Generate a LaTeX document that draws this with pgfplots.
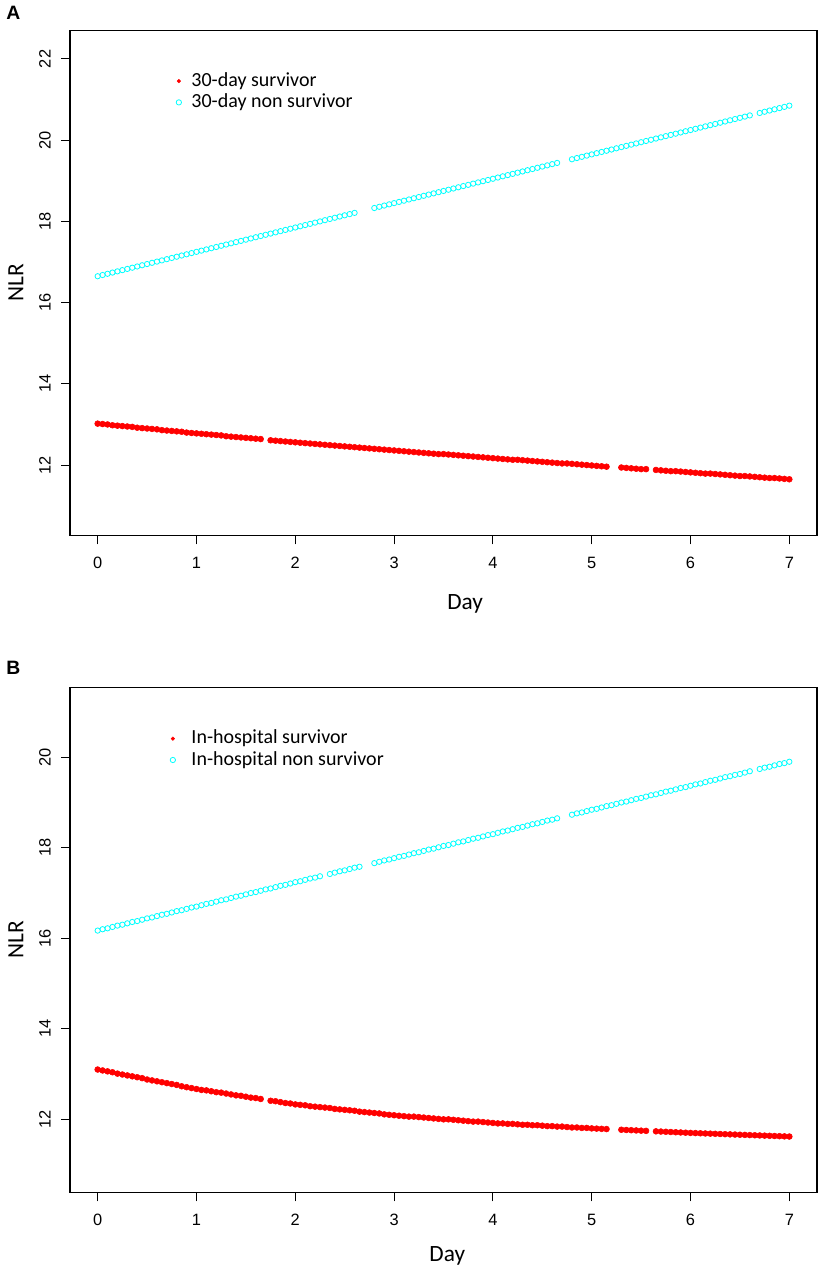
\documentclass[border=0pt]{standalone}
\usepackage{fontspec}
\setmainfont{Carlito}
\newfontfamily\arialf{Liberation Sans}
\usepackage{pgfplots}
\pgfplotsset{compat=1.18}
\usepackage{pgfplotstable}
\definecolor{rcyan}{RGB}{0,255,255}
\definecolor{rred}{RGB}{255,0,0}

\pgfplotstableread{
x ac ar bc br
0.00 16.65 13.02 16.17 13.10
0.05 16.68 13.01 16.20 13.08
0.10 16.71 13.00 16.22 13.06
0.15 16.74 12.98 16.25 13.04
0.20 16.77 12.97 16.28 13.01
0.25 16.80 12.96 16.30 12.99
0.30 16.83 12.95 16.33 12.97
0.35 16.86 12.94 16.36 12.95
0.40 16.89 12.92 16.38 12.93
0.45 16.92 12.91 16.41 12.91
0.50 16.95 12.90 16.44 12.88
0.55 16.98 12.89 16.46 12.86
0.60 17.01 12.88 16.49 12.84
0.65 17.04 12.86 16.52 12.82
0.70 17.07 12.85 16.54 12.80
0.75 17.10 12.84 16.57 12.78
0.80 17.13 12.83 16.60 12.76
0.85 17.16 12.82 16.62 12.73
0.90 17.19 12.80 16.65 12.71
0.95 17.22 12.79 16.68 12.69
1.00 17.25 12.78 16.70 12.67
1.05 17.28 12.77 16.73 12.65
1.10 17.31 12.76 16.76 12.64
1.15 17.34 12.75 16.78 12.62
1.20 17.37 12.74 16.81 12.60
1.25 17.40 12.73 16.84 12.59
1.30 17.43 12.71 16.86 12.57
1.35 17.46 12.70 16.89 12.55
1.40 17.49 12.69 16.92 12.53
1.45 17.52 12.68 16.94 12.52
1.50 17.55 12.67 16.97 12.50
1.55 17.58 12.66 17.00 12.48
1.60 17.61 12.65 17.02 12.47
1.65 17.64 12.64 17.05 12.45
1.70 17.67 nan 17.08 nan
1.75 17.70 12.61 17.10 12.41
1.80 17.73 12.60 17.13 12.40
1.85 17.76 12.59 17.16 12.38
1.90 17.79 12.58 17.18 12.36
1.95 17.82 12.57 17.21 12.35
2.00 17.85 12.56 17.24 12.33
2.05 17.88 12.55 17.26 12.32
2.10 17.91 12.54 17.29 12.31
2.15 17.94 12.53 17.32 12.29
2.20 17.97 12.52 17.34 12.28
2.25 18.00 12.51 17.37 12.27
2.30 18.03 12.50 nan 12.26
2.35 18.06 12.49 17.42 12.25
2.40 18.09 12.48 17.45 12.23
2.45 18.12 12.47 17.48 12.22
2.50 18.15 12.46 17.50 12.21
2.55 18.18 12.45 17.53 12.20
2.60 18.21 12.44 17.56 12.19
2.65 nan 12.43 17.58 12.17
2.70 nan 12.42 nan 12.16
2.75 nan 12.41 nan 12.15
2.80 18.33 12.40 17.66 12.14
2.85 18.36 12.39 17.69 12.13
2.90 18.39 12.38 17.72 12.11
2.95 18.42 12.37 17.74 12.10
3.00 18.45 12.36 17.77 12.09
3.05 18.48 12.35 17.80 12.08
3.10 18.51 12.34 17.82 12.07
3.15 18.54 12.33 17.85 12.06
3.20 18.57 12.32 17.88 12.06
3.25 18.60 12.31 17.90 12.05
3.30 18.63 12.30 17.93 12.04
3.35 18.66 12.29 17.96 12.03
3.40 18.69 12.28 17.98 12.02
3.45 18.72 12.27 18.01 12.01
3.50 18.75 12.27 18.04 12.00
3.55 18.78 12.26 18.06 12.00
3.60 18.81 12.25 18.09 11.99
3.65 18.84 12.24 18.12 11.98
3.70 18.87 12.23 18.14 11.97
3.75 18.90 12.22 18.17 11.96
3.80 18.93 12.21 18.20 11.95
3.85 18.96 12.20 18.22 11.95
3.90 18.99 12.19 18.25 11.94
3.95 19.02 12.18 18.28 11.93
4.00 19.05 12.17 18.30 11.92
4.05 19.08 12.16 18.33 11.91
4.10 19.11 12.15 18.36 11.91
4.15 19.14 12.14 18.38 11.90
4.20 19.17 12.13 18.41 11.90
4.25 19.20 12.13 18.44 11.89
4.30 19.23 12.12 18.46 11.88
4.35 19.26 12.11 18.49 11.88
4.40 19.29 12.10 18.52 11.87
4.45 19.32 12.09 18.54 11.87
4.50 19.35 12.08 18.57 11.86
4.55 19.38 12.07 18.60 11.85
4.60 19.41 12.06 18.62 11.85
4.65 19.44 12.05 18.65 11.84
4.70 nan 12.04 nan 11.84
4.75 nan 12.04 nan 11.83
4.80 19.53 12.03 18.73 11.82
4.85 19.56 12.02 18.76 11.82
4.90 19.59 12.01 18.78 11.81
4.95 19.62 12.00 18.81 11.81
5.00 19.65 11.99 18.84 11.80
5.05 19.68 11.98 18.86 11.795
5.10 19.71 11.97 18.89 11.790
5.15 19.74 11.96 18.92 11.785
5.20 19.77 nan 18.94 nan
5.25 19.80 nan 18.97 nan
5.30 19.83 11.94 19.00 11.770
5.35 19.86 11.93 19.02 11.765
5.40 19.89 11.92 19.05 11.760
5.45 19.92 11.91 19.08 11.755
5.50 19.95 11.90 19.10 11.750
5.55 19.98 11.90 19.13 11.745
5.60 20.01 nan 19.16 nan
5.65 20.04 11.88 19.18 11.735
5.70 20.07 11.87 19.21 11.730
5.75 20.10 11.86 19.24 11.725
5.80 20.13 11.85 19.26 11.720
5.85 20.16 11.85 19.29 11.715
5.90 20.19 11.84 19.32 11.710
5.95 20.22 11.83 19.34 11.705
6.00 20.25 11.82 19.37 11.700
6.05 20.28 11.81 19.40 11.696
6.10 20.31 11.80 19.42 11.692
6.15 20.34 11.79 19.45 11.688
6.20 20.37 11.79 19.48 11.684
6.25 20.40 11.78 19.50 11.680
6.30 20.43 11.77 19.53 11.676
6.35 20.46 11.76 19.56 11.672
6.40 20.49 11.75 19.58 11.668
6.45 20.52 11.74 19.61 11.664
6.50 20.55 11.73 19.63 11.660
6.55 20.58 11.73 19.66 11.656
6.60 20.61 11.72 19.69 11.652
6.65 nan 11.71 nan 11.648
6.70 20.67 11.70 19.74 11.644
6.75 20.70 11.69 19.77 11.640
6.80 20.73 11.68 19.79 11.636
6.85 20.76 11.68 19.82 11.632
6.90 20.79 11.67 19.85 11.628
6.95 20.82 11.66 19.87 11.624
7.00 20.85 11.65 19.90 11.620
}\nlrdata

\pgfplotsset{
  nlrbase/.style={
    scale only axis,
    width=560.25pt, height=379.2pt,
    xmin=-0.28, xmax=7.28,
    xtick={0,1,...,7},
    axis line style={line width=0.8pt},
    every tick/.style={line width=0.8pt, black},
    tick align=outside,
    xtick pos=left, ytick pos=left,
    major tick length=6.5pt,
    /pgf/number format/assume math mode=true,
    ticklabel style={font=\arialf\fontsize{12.3}{14}\selectfont},
    xticklabel style={anchor=north, inner sep=0pt},
    yticklabel style={rotate=90, anchor=south, inner sep=0pt},
    xticklabel shift=9.2pt,
    yticklabel shift=7.8pt,
    label style={font=\fontsize{17.5}{20}\selectfont},
    xlabel={Day}, ylabel={NLR},
    ylabel style={at={(axis description cs:-0.0723,0.5)}, anchor=center},
    legend cell align=left,
    legend image code/.code={\draw[##1] plot coordinates {(0pt,0pt)};},
  },
  redmk/.style={only marks, mark=*, color=rred, mark size=2.2pt},
  cyanmk/.style={only marks, mark=o, color=rcyan, mark size=2pt, line width=0.6pt},
}

\begin{document}
\begin{tikzpicture}
\path[use as bounding box] (0,0) rectangle (615pt,954pt);

\begin{axis}[nlrbase,
  at={(52.5pt,552.2pt)}, anchor=south west,
  ymin=10.26, ymax=22.71,
  ytick={12,14,...,22},
  xlabel style={at={(axis description cs:0.529,-0.1469)}, anchor=base},
  legend style={at={(axis description cs:0,1)}, anchor=north west,
    xshift=79.45pt, yshift=-30pt, draw=none, fill=none, inner sep=0pt,
    column sep=7.45pt, row sep=0pt,
    nodes={inner sep=0pt, text height=12pt, text depth=4pt},
    font=\fontsize{15}{18}\selectfont},
]
\addlegendimage{only marks, mark=*, rred, mark size=1.3pt}
\addlegendentry{30-day survivor}
\addlegendimage{only marks, mark=o, rcyan, mark size=2pt, line width=0.6pt}
\addlegendentry{30-day non survivor}
\addplot[redmk, forget plot] table[x=x, y=ar] {\nlrdata};
\addplot[cyanmk, forget plot] table[x=x, y=ac] {\nlrdata};
\end{axis}

\begin{axis}[nlrbase,
  at={(52.5pt,59.5pt)}, anchor=south west,
  ymin=10.38, ymax=21.55,
  ytick={12,14,...,20},
  xlabel style={at={(axis description cs:0.505,-0.1371)}, anchor=base},
  legend style={at={(axis description cs:0,1)}, anchor=north west,
    xshift=74.95pt, yshift=-30.5pt, draw=none, fill=none, inner sep=0pt,
    column sep=11.95pt, row sep=0pt,
    nodes={inner sep=0pt, text height=12pt, text depth=4pt},
    font=\fontsize{15}{18}\selectfont},
]
\addlegendimage{only marks, mark=*, rred, mark size=1.3pt}
\addlegendentry{In-hospital survivor}
\addlegendimage{only marks, mark=o, rcyan, mark size=2pt, line width=0.6pt}
\addlegendentry{In-hospital non survivor}
\addplot[redmk, forget plot] table[x=x, y=br] {\nlrdata};
\addplot[cyanmk, forget plot] table[x=x, y=bc] {\nlrdata};
\end{axis}

\node[anchor=base west, inner sep=0pt, font=\arialf\bfseries\fontsize{14.5}{16}\selectfont] at (4.5pt,939pt) {A};
\node[anchor=base west, inner sep=0pt, font=\arialf\bfseries\fontsize{14.5}{16}\selectfont] at (4.5pt,447.75pt) {B};
\end{tikzpicture}
\end{document}
